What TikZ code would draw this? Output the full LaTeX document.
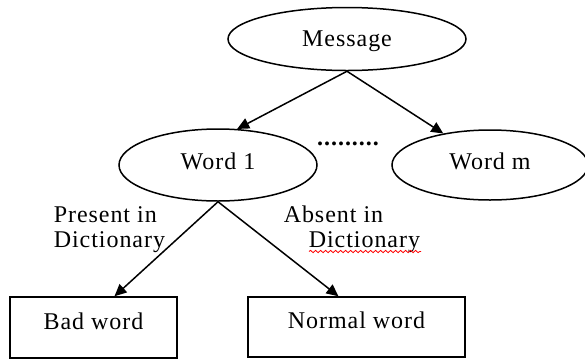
\documentclass[tikz,border=0pt]{standalone}
\usepackage{fontspec}
\setmainfont[LetterSpace=4]{Liberation Serif}
\usetikzlibrary{shapes.geometric,arrows.meta,decorations.pathmorphing}

\begin{document}
\begin{tikzpicture}[x=0.5pt, y=-0.5pt, line width=0.75pt,
    font=\fontsize{12}{12.5}\selectfont,
    oval/.style={draw, ellipse, inner sep=0pt, text height=8pt},
    box/.style={draw, rectangle, inner sep=0pt, text height=9pt, text depth=7.5pt},
    lbl/.style={anchor=base west, inner sep=0pt},
    arr/.style={-{Triangle[length=6pt, width=5.5pt]}}]
    \useasboundingbox (0,0) rectangle (585,360);

    \node[oval, text depth=1pt, minimum width=119pt, minimum height=31.5pt] (msg) at (347,39) {Message};
    \node[oval, text depth=4pt, minimum width=99pt, minimum height=36pt] (w1) at (218,165) {Word 1};
    \node[oval, text depth=4pt, minimum width=98pt, minimum height=35pt] (wm) at (490,165) {Word m};
    \node[anchor=base, inner sep=0pt, font=\fontsize{12}{12.5}\selectfont\bfseries] (dots) at (348,145) {.........};

    \node[box, minimum width=83.5pt, minimum height=30.5pt] (bad) at (93.5,327.5) {Bad word};
    \node[box, minimum width=108.5pt, minimum height=30pt] (normal) at (356.5,327) {Normal word};

    \foreach \t in {w1.62, wm.146} {
      \draw[arr] (msg.south) -- (\t);
    }
    \draw[arr] (w1.south) -- ([xshift=10.5pt]bad.north);
    \draw[arr] (w1.south) -- ([xshift=-9pt]normal.north);

    \node[lbl] (present) at (53,222) {Present in};
    \node[lbl] (presentdict) at (53,247) {Dictionary};
    \node[lbl] (absent) at (283,222) {Absent in};
    \node[lbl] (absentdict) at (308,247) {Dictionary};
    \draw[red, line width=0.4pt, decorate,
      decoration={snake, amplitude=0.6pt, segment length=2.5pt}]
      (309,251.5) -- (421,251.5);
  \end{tikzpicture}
\end{document}
